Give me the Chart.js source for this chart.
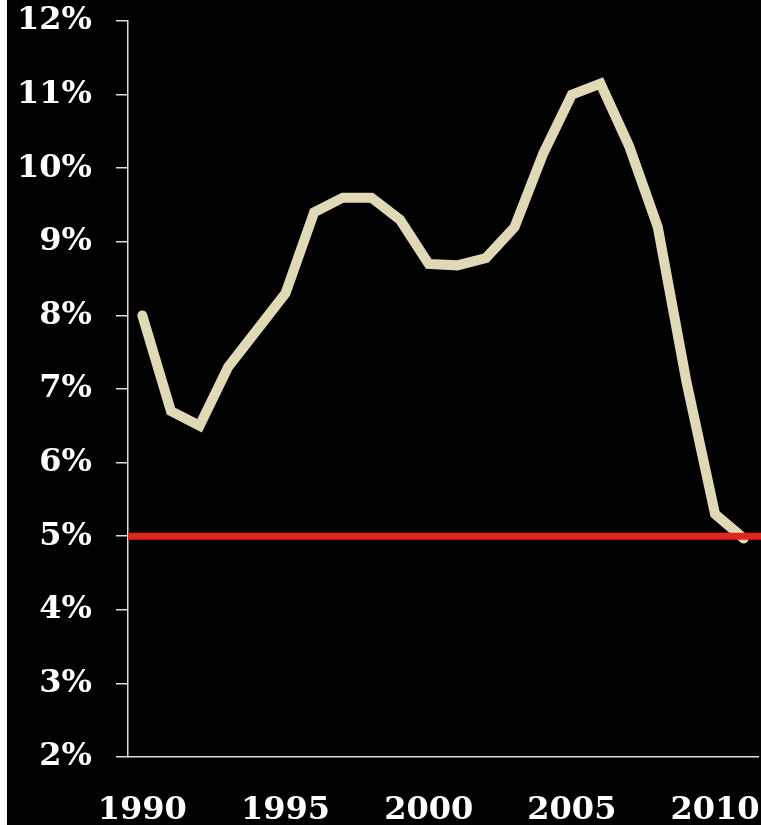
<!DOCTYPE html>
<html>
<head>
<meta charset="utf-8">
<script src="https://cdn.jsdelivr.net/npm/chart.js@4"></script>
<style>
  body { margin: 0; background: #fff; }
  #wrap { position: absolute; left: 7px; top: 0; width: 754px; height: 825px; background: #000; }
</style>
</head>
<body>
<div id="wrap"><canvas id="rateChart" width="754" height="825"></canvas></div>
<script>
let years = ['1990', '1991', '1992', '1993', '1994', '1995', '1996', '1997', '1998', '1999', '2000',
             '2001', '2002', '2003', '2004', '2005', '2006', '2007', '2008', '2009', '2010', '2011'];
let rates = [8.0, 6.7, 6.5, 7.3, 7.8, 8.3, 9.4, 9.6, 9.6, 9.3, 8.7,
             8.68, 8.78, 9.2, 10.2, 11.0, 11.15, 10.3, 9.2, 7.1, 5.3, 4.97];
let yTicks = [2, 3, 4, 5, 6, 7, 8, 9, 10, 11, 12];
let targetRate = 5;

const axisFont = { family: 'DejaVu Serif', weight: 'bold', size: 32 };

// red reference rule, drawn over the series
const targetLine = {
    id: 'targetLine',
    afterDatasetsDraw(chart) {
        let y = chart.scales.y.getPixelForValue(targetRate);
        let ctx = chart.ctx;
        ctx.save();
        ctx.strokeStyle = '#e2261a';
        ctx.lineWidth = 7;
        ctx.beginPath();
        ctx.moveTo(chart.chartArea.left, y);
        ctx.lineTo(chart.width, y);
        ctx.stroke();
        ctx.restore();
    }
};

const ctx = document.getElementById('rateChart').getContext('2d');
new Chart(ctx, {
    type: 'line',
    data: {
        labels: years,
        datasets: [{
            data: rates,
            borderColor: '#dfd9b6',
            borderWidth: 10,
            borderCapStyle: 'round',
            borderJoinStyle: 'miter',
            pointRadius: 0,
            tension: 0,
            fill: false
        }]
    },
    options: {
        responsive: false,
        animation: false,
        layout: { padding: { top: 21, right: 3, left: 0, bottom: 0 } },
        plugins: { legend: { display: false }, tooltip: { enabled: false } },
        scales: {
            x: {
                offset: true,
                grid: { display: false },
                border: { display: true, color: '#dddddd', width: 1.5 },
                ticks: {
                    autoSkip: false,
                    maxRotation: 0,
                    color: '#ffffff',
                    font: axisFont,
                    padding: 26,
                    callback: function (v, i) {
                        return Number(years[i]) % 5 === 0 ? years[i] : '';
                    }
                },
                afterFit: function (scale) {
                    scale.height = 68;
                    scale.paddingLeft = 0;
                    scale.paddingRight = 0;
                }
            },
            y: {
                min: yTicks[0],
                max: yTicks[yTicks.length - 1],
                afterBuildTicks: function (scale) {
                    scale.ticks = yTicks.map(v => ({ value: v }));
                },
                grid: {
                    display: true,
                    drawOnChartArea: false,
                    drawTicks: true,
                    tickLength: 12,
                    color: '#dddddd',
                    lineWidth: 1.5
                },
                border: { display: true, color: '#dddddd', width: 1.5 },
                ticks: {
                    color: '#ffffff',
                    font: axisFont,
                    padding: 24,
                    callback: function (v) { return v + '%'; }
                },
                afterFit: function (scale) {
                    scale.width = 121;
                    scale.paddingTop = 0;
                    scale.paddingBottom = 0;
                }
            }
        }
    },
    plugins: [targetLine]
});
</script>
</body>
</html>
